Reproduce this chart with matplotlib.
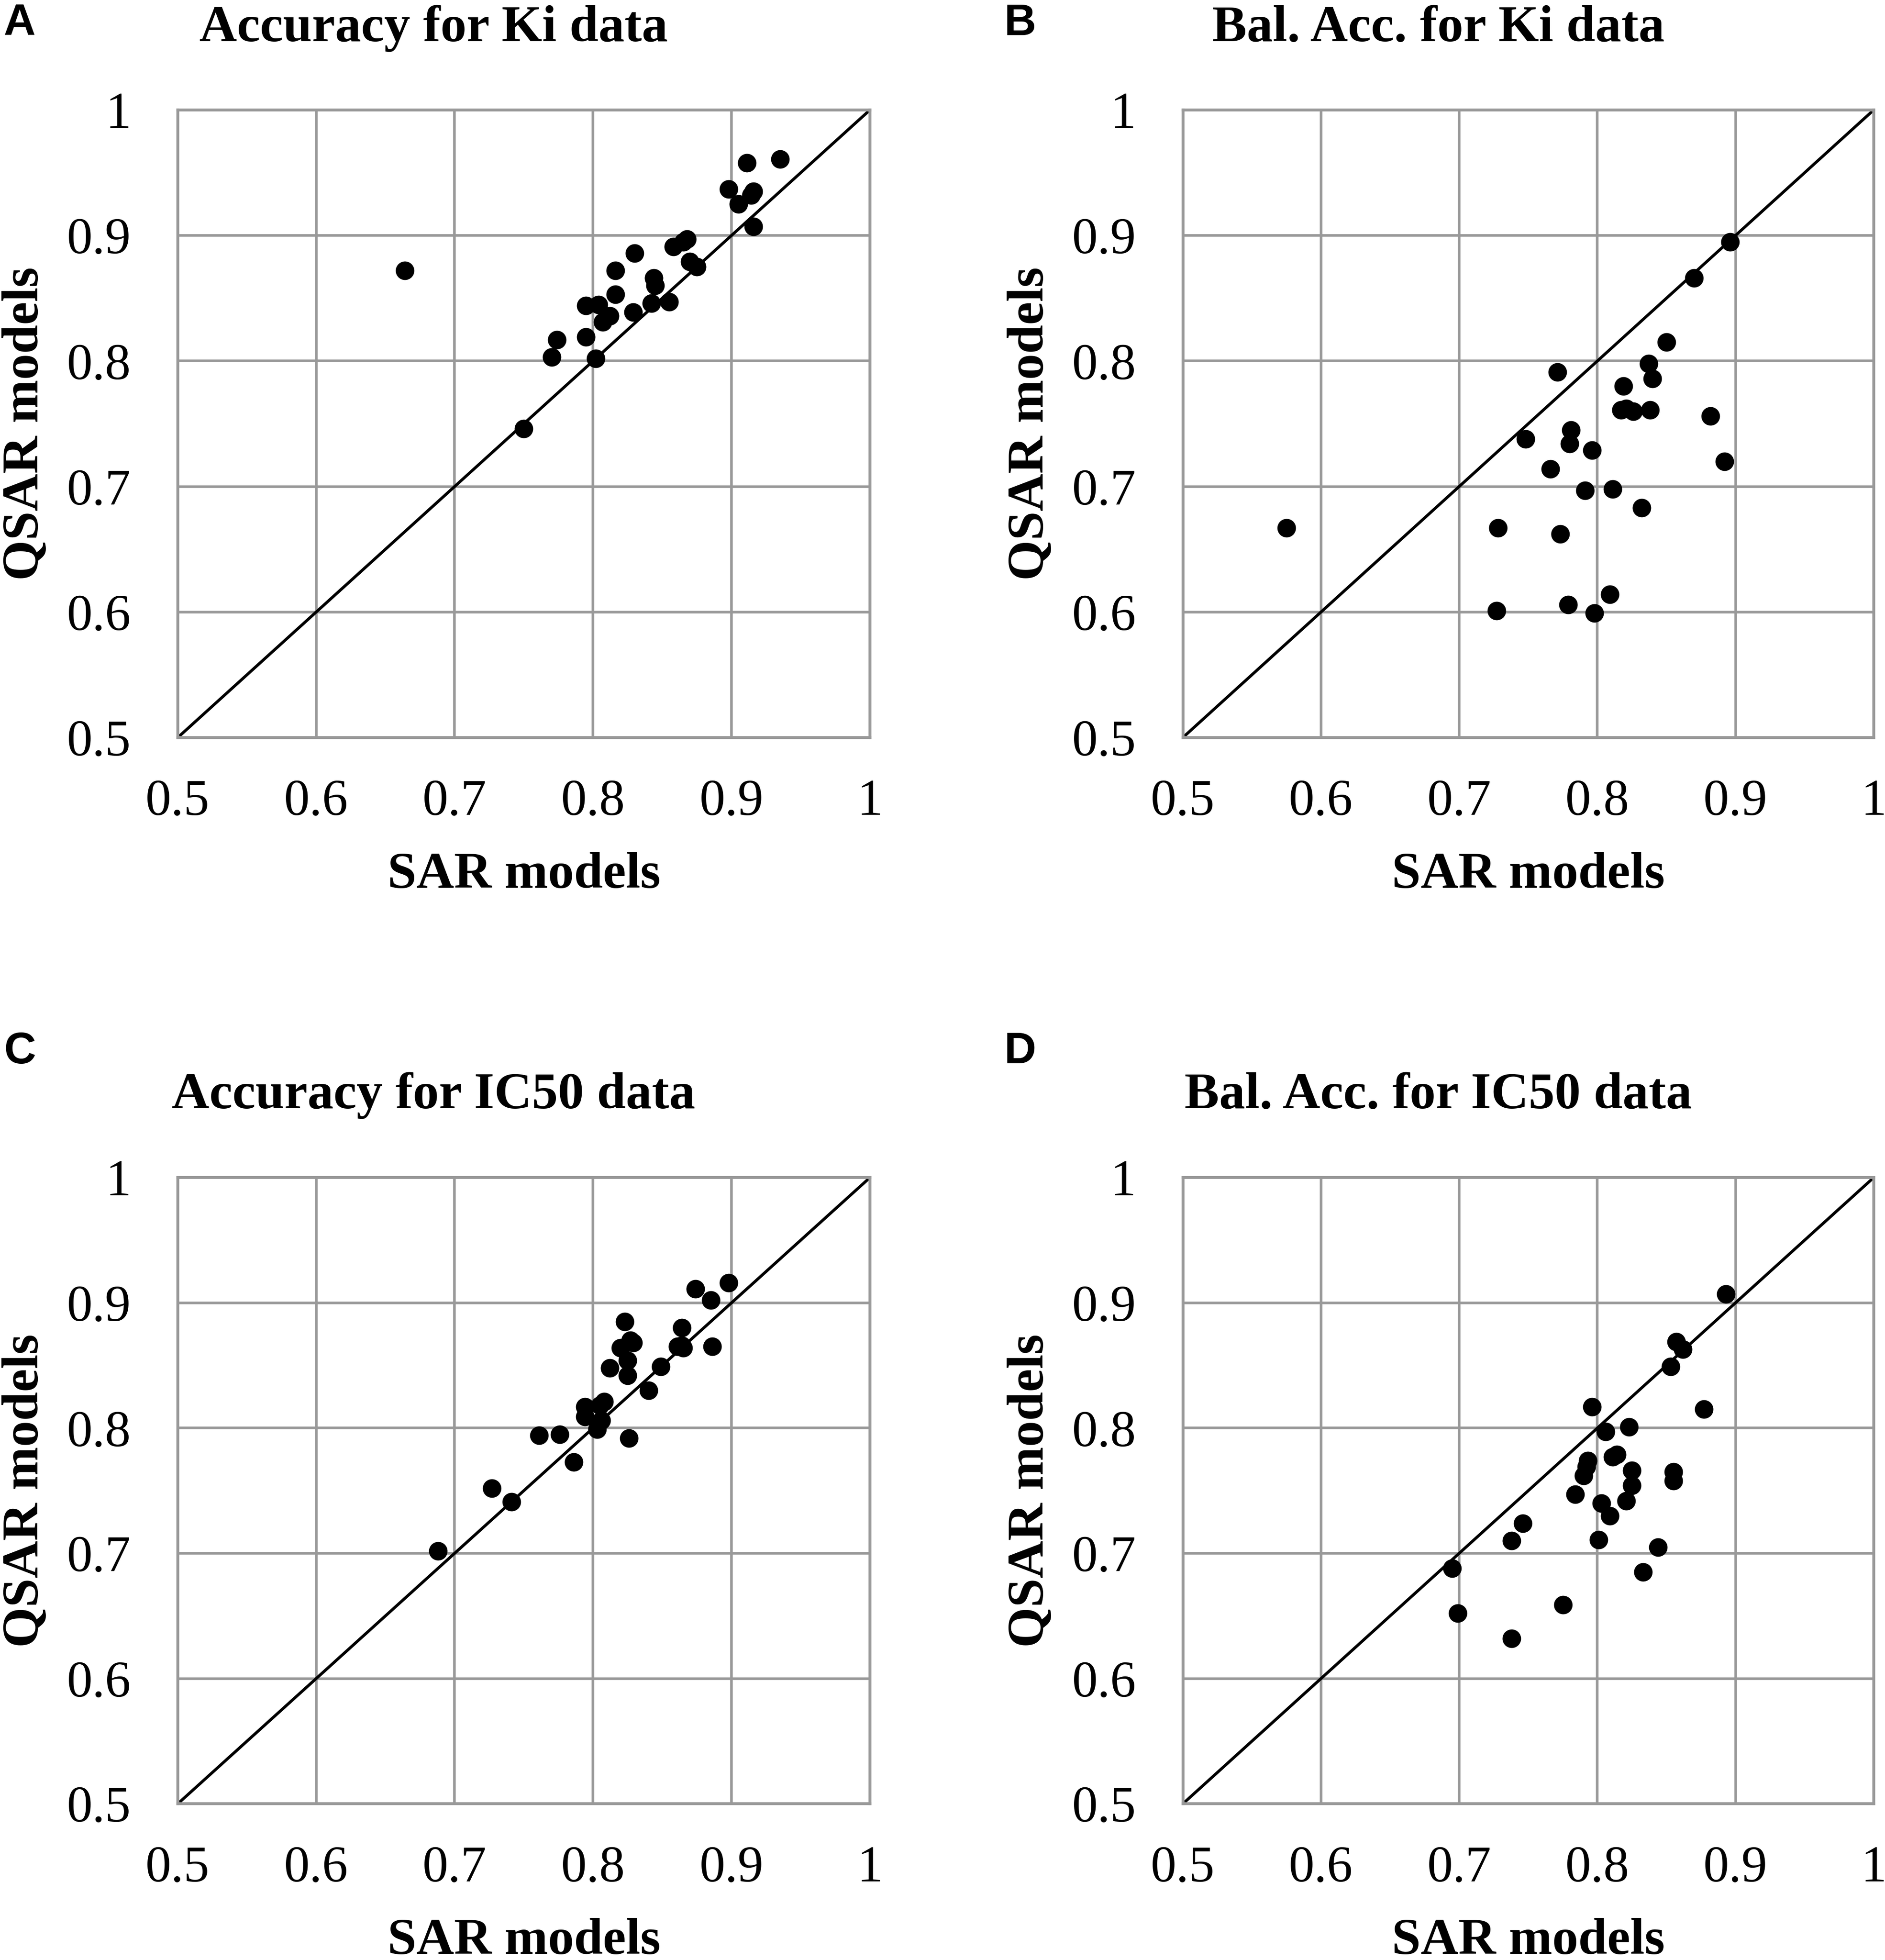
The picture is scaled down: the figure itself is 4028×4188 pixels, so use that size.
import matplotlib
matplotlib.use('Agg')
import matplotlib.pyplot as plt

plt.rcParams['font.family'] = 'Liberation Serif'

# panel A: Accuracy for Ki data
ki_acc_sar = [0.664, 0.911, 0.935, 0.898, 0.916, 0.914, 0.905, 0.916, 0.830, 0.858,
              0.865, 0.868, 0.870, 0.875, 0.816, 0.844, 0.845, 0.816, 0.795, 0.804,
              0.812, 0.807, 0.829, 0.842, 0.855, 0.774, 0.795, 0.770, 0.802, 0.750]
ki_acc_qsar = [0.872, 0.958, 0.961, 0.937, 0.935, 0.932, 0.925, 0.907, 0.886, 0.891,
               0.895, 0.897, 0.879, 0.875, 0.872, 0.866, 0.860, 0.853, 0.844, 0.845,
               0.836, 0.831, 0.839, 0.846, 0.847, 0.817, 0.819, 0.803, 0.802, 0.746]

# panel B: Balanced accuracy for Ki data
ki_bal_sar = [0.575, 0.896, 0.870, 0.850, 0.771, 0.837, 0.840, 0.819, 0.817, 0.821,
              0.826, 0.838, 0.882, 0.781, 0.748, 0.780, 0.796, 0.766, 0.892, 0.791,
              0.811, 0.832, 0.728, 0.773, 0.809, 0.779, 0.727, 0.798]
ki_bal_qsar = [0.667, 0.895, 0.866, 0.815, 0.791, 0.798, 0.786, 0.780, 0.761, 0.762,
               0.760, 0.761, 0.756, 0.745, 0.738, 0.734, 0.729, 0.714, 0.720, 0.697,
               0.698, 0.683, 0.667, 0.662, 0.614, 0.606, 0.601, 0.599]

# panel C: Accuracy for IC50 data
ic_acc_sar = [0.688, 0.727, 0.741, 0.761, 0.776, 0.786, 0.794, 0.794, 0.808, 0.805,
              0.806, 0.803, 0.826, 0.812, 0.825, 0.825, 0.820, 0.827, 0.829, 0.823,
              0.840, 0.849, 0.861, 0.865, 0.864, 0.864, 0.886, 0.874, 0.885, 0.898]
ic_acc_qsar = [0.702, 0.752, 0.741, 0.794, 0.795, 0.773, 0.817, 0.809, 0.821, 0.818,
               0.806, 0.799, 0.792, 0.848, 0.842, 0.854, 0.864, 0.870, 0.868, 0.885,
               0.830, 0.849, 0.865, 0.864, 0.866, 0.880, 0.865, 0.911, 0.902, 0.916]

# panel D: Balanced accuracy for IC50 data
ic_bal_sar = [0.893, 0.857, 0.862, 0.853, 0.796, 0.877, 0.823, 0.806, 0.811, 0.814,
              0.793, 0.792, 0.790, 0.825, 0.825, 0.855, 0.855, 0.784, 0.803, 0.821,
              0.809, 0.746, 0.738, 0.801, 0.844, 0.695, 0.833, 0.775, 0.699, 0.738]
ic_bal_qsar = [0.907, 0.869, 0.863, 0.849, 0.817, 0.815, 0.801, 0.797, 0.777, 0.779,
               0.774, 0.769, 0.762, 0.766, 0.754, 0.765, 0.758, 0.747, 0.740, 0.742,
               0.730, 0.724, 0.710, 0.711, 0.705, 0.688, 0.685, 0.659, 0.652, 0.632]

ticks = [0.5, 0.6, 0.7, 0.8, 0.9, 1.0]
tick_labels = ['0.5', '0.6', '0.7', '0.8', '0.9', '1']

panels = [
    ('A', 'Accuracy for Ki data', ki_acc_sar, ki_acc_qsar),
    ('B', 'Bal. Acc. for Ki data', ki_bal_sar, ki_bal_qsar),
    ('C', 'Accuracy for IC50 data', ic_acc_sar, ic_acc_qsar),
    ('D', 'Bal. Acc. for IC50 data', ic_bal_sar, ic_bal_qsar),
]

# axes boxes in figure fractions: left, bottom, width, height
boxes = [
    [0.0943, 0.6237, 0.3672, 0.3202],
    [0.6275, 0.6237, 0.3665, 0.3202],
    [0.0943, 0.0797, 0.3672, 0.3195],
    [0.6275, 0.0797, 0.3665, 0.3195],
]
title_pos = [(0.2300, 0.979), (0.7630, 0.979), (0.2300, 0.4346), (0.7630, 0.4346)]
letter_pos = [(0.002, 0.982), (0.5328, 0.982), (0.002, 0.4575), (0.5328, 0.4575)]

fig = plt.figure(figsize=(40.28, 41.88), dpi=100)
grid_col = '#999999'

for (letter, title, sar, qsar), box, tp, lp in zip(panels, boxes, title_pos, letter_pos):
    ax = fig.add_axes(box)
    ax.set_xlim(0.5, 1.0)
    ax.set_ylim(0.5, 1.0)
    ax.set_xticks(ticks)
    ax.set_yticks(ticks)
    ax.set_xticklabels(tick_labels)
    ax.set_yticklabels(tick_labels)
    ax.grid(True, color=grid_col, linewidth=4)
    ax.set_axisbelow(True)
    for sp in ax.spines.values():
        sp.set_color(grid_col)
        sp.set_linewidth(4.5)
    ax.tick_params(length=0, labelsize=79)
    ax.tick_params(axis='x', pad=64)
    ax.tick_params(axis='y', pad=72)
    ax.plot([0.5, 1.0], [0.5, 1.0], color='black', linewidth=4.5, zorder=2)
    ax.scatter(sar, qsar, s=760, color='black', zorder=3, clip_on=False)
    ax.set_xlabel('SAR models', fontsize=80, fontweight='bold', labelpad=40)
    ax.set_ylabel('QSAR models', fontsize=80, fontweight='bold', labelpad=28)
    fig.text(tp[0], tp[1], title, fontsize=80, fontweight='bold', ha='center', va='baseline')
    fig.text(lp[0], lp[1], letter, fontsize=68, fontweight='bold', family='Liberation Sans',
             ha='left', va='baseline')

fig.savefig('out.png', dpi=100)
